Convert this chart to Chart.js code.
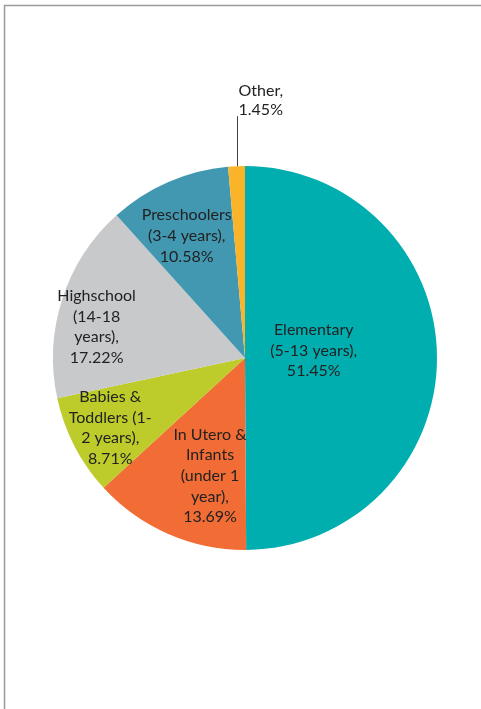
<!DOCTYPE html>
<html>
<head>
<meta charset="utf-8">
<script src="https://cdn.jsdelivr.net/npm/chart.js@4/dist/chart.umd.min.js"></script>
<style>
  html, body { margin: 0; padding: 0; background: #fff; }
  #wrap { position: relative; width: 481px; height: 709px; }
</style>
</head>
<body>
<div id="wrap"><canvas id="my-chart--age"></canvas></div>
<script>
// data
const categories = [
    ['Elementary', '(5-13 years),'],
    ['In Utero &', 'Infants', '(under 1', 'year),'],
    ['Babies &', 'Toddlers (1-', '2 years),'],
    ['Highschool', '(14-18', 'years),'],
    ['Preschoolers', '(3-4 years),'],
    ['Other,']
];
const shares = [51.45, 13.69, 8.71, 17.22, 10.58, 1.45];
const shareLabels = ['51.45%', '13.69%', '8.71%', '17.22%', '10.58%', '1.45%'];
const bgColor = ['#00aeb0', '#f26c35', '#bdcc2a', '#c8c9cb', '#4398b1', '#f9b42a'];

// where each label sits: fraction of radius + angle nudge (deg)
const labelPlace = [
    { r: 0.36, a: -6 },
    { r: 0.64, a: -7 },
    { r: 0.79, a: 0 },
    { r: 0.79, a: -6 },
    { r: 0.705, a: -2 },
    null
];

const frame = {
    id: 'frame',
    beforeDraw(chart) {
        const c = chart.ctx;
        c.save();
        c.strokeStyle = '#9a9a9a';
        c.lineWidth = 1.5;
        c.beginPath();
        c.moveTo(4.5, 709);
        c.lineTo(4.5, 5.5);
        c.lineTo(481, 5.5);
        c.stroke();
        c.restore();
    }
};

const sliceLabels = {
    id: 'sliceLabels',
    afterDatasetsDraw(chart) {
        const c = chart.ctx;
        const meta = chart.getDatasetMeta(0);
        const lh = 20.6;
        c.save();
        c.font = '16px Lato';
        c.fillStyle = '#222';
        c.textAlign = 'center';
        c.textBaseline = 'middle';
        meta.data.forEach((arc, i) => {
            const lines = categories[i].concat([shareLabels[i]]);
            const p = labelPlace[i];
            if (p) {
                const mid = (arc.startAngle + arc.endAngle) / 2 + p.a * Math.PI / 180;
                const x = arc.x + Math.cos(mid) * arc.outerRadius * p.r;
                const y = arc.y + Math.sin(mid) * arc.outerRadius * p.r;
                const y0 = y - (lines.length - 1) * lh / 2;
                lines.forEach((t, k) => c.fillText(t, x, y0 + k * lh));
            } else {
                // small slice: label above with a leader line
                const mid = (arc.startAngle + arc.endAngle) / 2;
                const ex = arc.x + Math.cos(mid) * arc.outerRadius;
                const ey = arc.y + Math.sin(mid) * arc.outerRadius;
                c.strokeStyle = '#404040';
                c.lineWidth = 1;
                c.beginPath();
                c.moveTo(Math.round(ex) + 0.5, ey);
                c.lineTo(Math.round(ex) + 0.5, ey - 50);
                c.stroke();
                c.textAlign = 'left';
                const yLast = ey - 56;
                lines.forEach((t, k) => c.fillText(t, ex + 2, yLast - (lines.length - 1 - k) * 19));
            }
        });
        c.restore();
    }
};

const ctxPie = document.getElementById('my-chart--age').getContext('2d');
new Chart(ctxPie, {
    type: 'pie',
    data: {
        labels: categories.map(l => l.join(' ')),
        datasets: [{
            data: shares,
            backgroundColor: bgColor,
            borderWidth: 0
        }]
    },
    options: {
        responsive: true,
        maintainAspectRatio: false,
        animation: false,
        layout: { padding: { left: 53, right: 44, top: 166, bottom: 159 } },
        plugins: {
            legend: { display: false },
            tooltip: { enabled: false }
        }
    },
    plugins: [frame, sliceLabels]
});
</script>
</body>
</html>
